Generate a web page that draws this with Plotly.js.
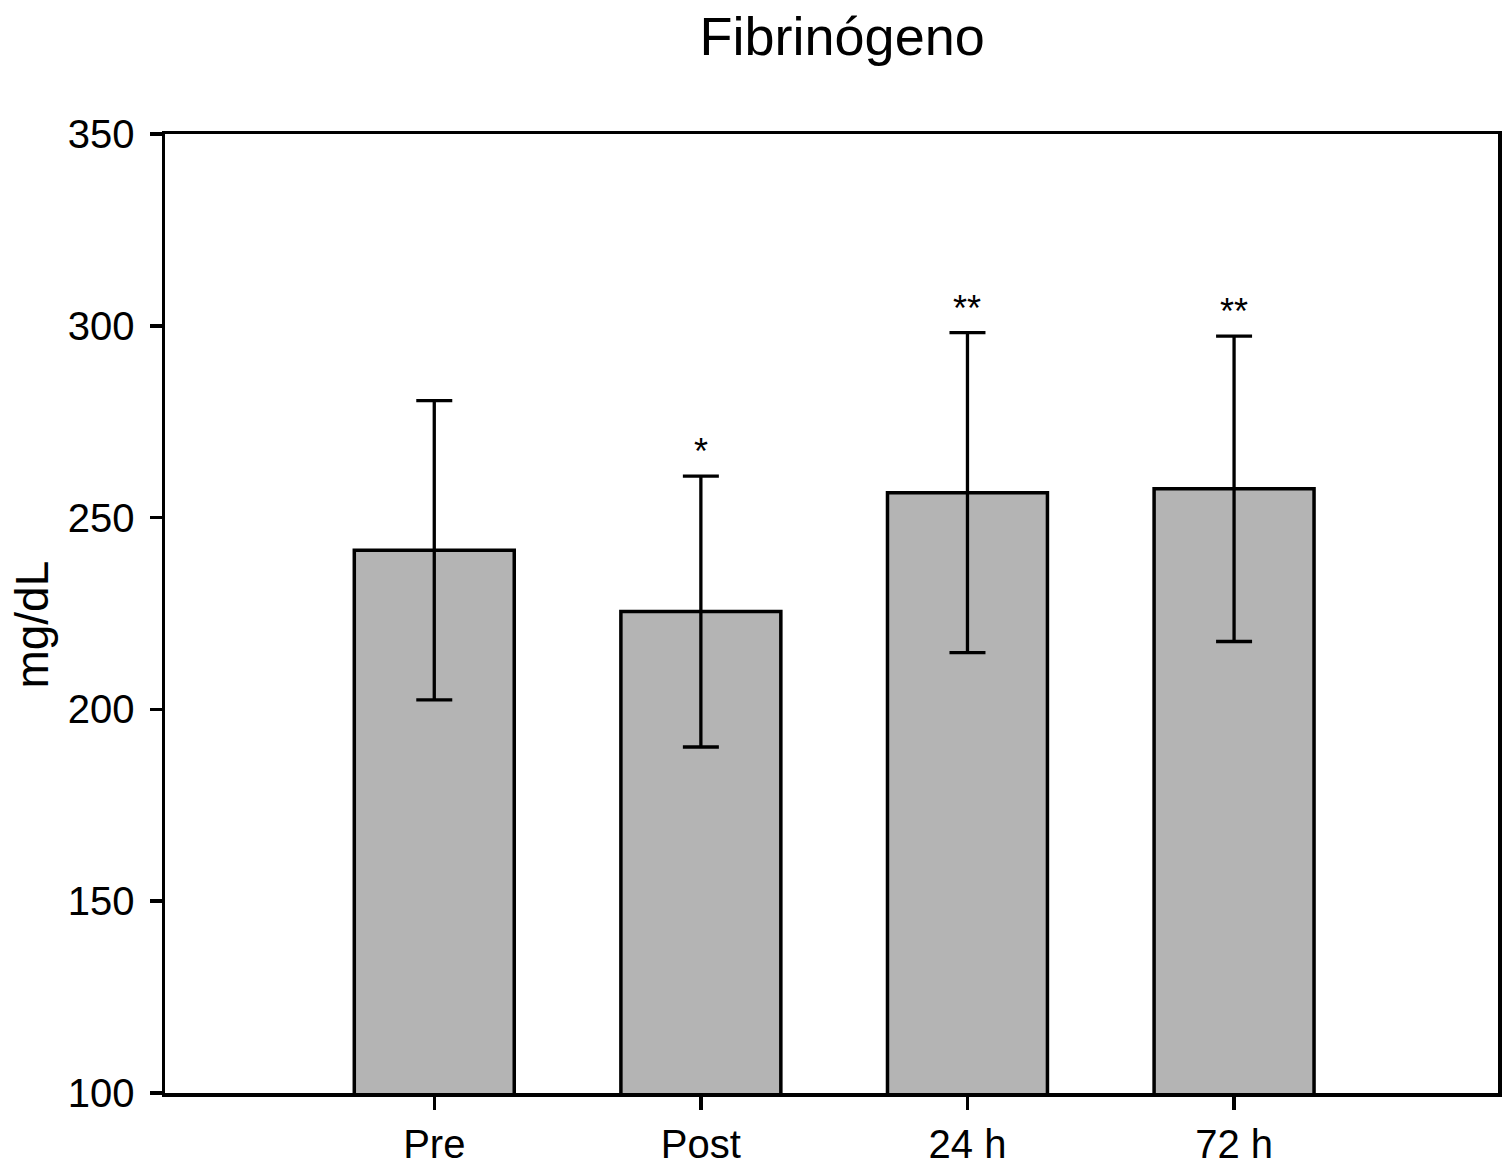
<!DOCTYPE html>
<html>
<head>
<meta charset="utf-8">
<script src="https://cdn.plot.ly/plotly-3.0.1.min.js"></script>
<style>html,body{margin:0;padding:0;background:#fff;}#chart{width:1507px;height:1174px;}</style>
</head>
<body>
<div id="chart"></div>
<script>
const categories = ['Pre', 'Post', '24 h', '72 h'];
const means = [241.5, 225.5, 256.5, 257.5];
const sdErrors = [39, 35.3, 41.7, 39.8];
const significance = ['', '*', '**', '**'];
const yTickValues = [100, 150, 200, 250, 300, 350];
const yTitle = 'mg/dL';

const font = 'Liberation Sans, Arial, Helvetica, sans-serif';

const trace = {
  type: 'bar',
  x: categories.map((c, i) => i),
  y: means,
  width: 0.6,
  marker: {color: '#b4b4b4', line: {color: '#000', width: 3.5}},
  error_y: {type: 'data', array: sdErrors, visible: true, symmetric: false, arrayminus: sdErrors, color: '#000', thickness: 3.3, width: 18},
  hoverinfo: 'none'
};

const annotations = significance.map((s, i) => ({
  x: i, y: means[i] + sdErrors[i], xref: 'x', yref: 'y',
  text: s, showarrow: false, yanchor: 'bottom', yshift: 2,
  font: {family: font, size: 36, color: '#000'}
})).filter(a => a.text);

annotations.push({
  xref: 'paper', yref: 'paper', x: -0.1005, y: 0.4885,
  xanchor: 'center', yanchor: 'middle', textangle: -90,
  text: yTitle, showarrow: false,
  font: {family: font, size: 46, color: '#000'}
});

const layout = {
  width: 1507, height: 1174,
  margin: {l: 165, r: 9, t: 134, b: 81},
  paper_bgcolor: '#fff', plot_bgcolor: '#fff',
  showlegend: false,
  title: {text: 'Fibrinógeno', font: {family: font, size: 54, color: '#000'}, xref: 'paper', x: 0.508, xanchor: 'center', yref: 'container', y: 0.969, yanchor: 'middle'},
  xaxis: {
    range: [-1.01, 3.99], tickmode: 'array', tickvals: categories.map((c, i) => i), ticktext: categories,
    showline: true, mirror: true, linecolor: '#000', linewidth: 3.5,
    ticks: 'outside', ticklen: 13, tickwidth: 3.5, tickcolor: '#000',
    showgrid: false, zeroline: false,
    tickfont: {family: font, size: 40, color: '#000'}
  },
  yaxis: {
    range: [100, 350], tickmode: 'array', tickvals: yTickValues,
    showline: true, mirror: true, linecolor: '#000', linewidth: 3.5,
    ticks: 'outside', ticklen: 12, tickwidth: 3.5, tickcolor: '#000',
    showgrid: false, zeroline: false,
    tickfont: {family: font, size: 40, color: '#000'},
    ticklabelstandoff: 7
  },
  annotations: annotations
};

Plotly.newPlot('chart', [trace], layout, {displayModeBar: false, staticPlot: true});
</script>
</body>
</html>
